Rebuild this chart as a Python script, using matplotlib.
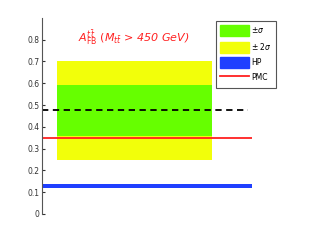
import matplotlib.pyplot as plt
from matplotlib.patches import Patch
from matplotlib.lines import Line2D

# band extents (x in axis units, y = A_FB)
band_x = [0.07, 0.81]
sigma1 = [0.359, 0.59]
sigma2 = [0.248, 0.703]
hp = [0.117, 0.137]
line_x = [0.0, 1.0]
pmc = 0.35
dashed = 0.475
dashed_x = [0.0, 0.98]
yticks = [0, 0.1, 0.2, 0.3, 0.4, 0.5, 0.6, 0.7, 0.8]

green = '#66ff00'
yellow = '#f2ff0a'
blue = '#1f3fff'
red = '#ff2020'

fig = plt.figure(figsize=(3.21, 2.42), dpi=100)
ax = fig.add_axes([0.131, 0.116, 0.654, 0.81])

ax.fill_between(band_x, sigma2[0], sigma2[1], color=yellow, lw=0)
ax.fill_between(band_x, sigma1[0], sigma1[1], color=green, lw=0)
ax.fill_between(line_x, hp[0], hp[1], color=blue, lw=0)
ax.plot(line_x, [pmc, pmc], color=red, lw=1.3)
ax.plot(dashed_x, [dashed, dashed], color='black', lw=1.3, dashes=(3.5, 2.5))

ax.text(0.17, 0.79, r'$A_{\rm FB}^{t\bar{t}}$ $(M_{t\bar{t}}$ > 450 GeV)', color=red,
        fontsize=8, style='italic', transform=ax.transData)

ax.set_xlim(0, 1)
ax.set_ylim(0, 0.9)
ax.set_yticks(yticks)
ax.set_yticklabels(['0'] + ['%.1f' % v for v in yticks[1:]])
ax.set_xticks([])
for s in ['top', 'right', 'bottom']:
    ax.spines[s].set_visible(False)
ax.spines['left'].set_color('#555555')
ax.tick_params(axis='y', direction='in', length=2, labelsize=5.5, colors='#333333', pad=2)

handles = [Patch(color=green), Patch(color=yellow), Patch(color=blue),
           Line2D([], [], color=red, lw=1.3)]
labels = [r'$\pm\sigma$', r'$\pm$ 2$\sigma$', 'HP', 'PMC']
leg = ax.legend(handles, labels, loc='upper left', bbox_to_anchor=(0.83, 0.985),
                fontsize=5.5, fancybox=False, edgecolor='#555555', handlelength=3.7,
                handleheight=1.8, labelspacing=0.6, handletextpad=0.35, borderpad=0.55,
                borderaxespad=0, framealpha=1)
leg.get_frame().set_linewidth(0.8)

fig.savefig('out.png', dpi=100)
